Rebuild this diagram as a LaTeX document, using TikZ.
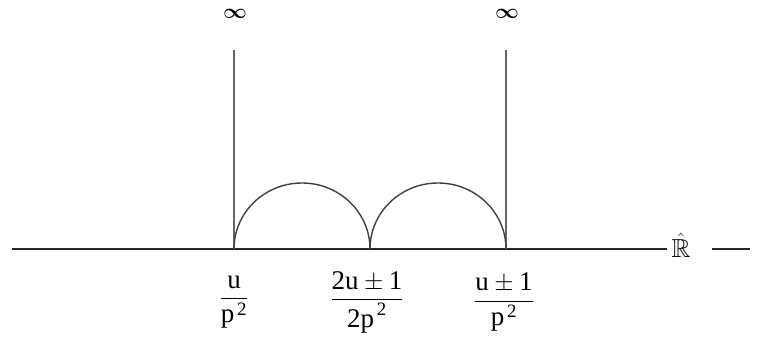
\documentclass[tikz,border=0pt]{standalone}
\usepackage{amsmath,amssymb}
\usepackage{fontspec}
\setmainfont{Liberation Serif}
\begin{document}
\begin{tikzpicture}[x=1pt,y=-1pt,
  axis/.style={line width=1.4pt,black!85},
  vert/.style={line width=1.8pt,black!60},
  geod/.style={line width=1.4pt,black!75},
  lab/.style={font=\fontsize{27}{30}\selectfont,inner sep=0pt},
  inf/.style={font=\fontsize{21}{22}\selectfont,inner sep=0pt}]
\useasboundingbox (0,0) rectangle (764,345);
\coordinate (A) at (234,249);
\coordinate (B) at (370,249);
\coordinate (C) at (506,249);
\coordinate (L) at (12,249);
\coordinate (R) at (750,249);
\coordinate (G1) at (667,249);
\coordinate (G2) at (712,249);
\node[inf] (infA) at (235,14) {$\boldsymbol{\infty}$};
\node[inf] (infC) at (507,14) {$\boldsymbol{\infty}$};
\node[font=\fontsize{26}{28}\selectfont,inner sep=0pt] (Rhat) at (681,245) {$\hat{\mathbb{R}}$};
\draw[axis] (L) -- (G1);
\draw[axis] (G2) -- (R);
\draw[vert] (234,50) -- (A);
\draw[vert] (506,50) -- (C);
\draw[geod] (A) arc[start angle=180,end angle=0,x radius=68,y radius=-66];
\draw[geod] (B) arc[start angle=180,end angle=0,x radius=68,y radius=-66];
\node[lab] (la) at (234,302) {$\dfrac{\mathrm{u}}{\mathrm{p}^{\,\mathrm{2}}}$};
\node[lab] (lb) at (367,302) {$\dfrac{\mathrm{2u}\pm\mathrm{1}}{\mathrm{2p}^{\,\mathrm{2}}}$};
\node[lab] (lc) at (504,302) {$\dfrac{\mathrm{u}\pm\mathrm{1}}{\mathrm{p}^{\,\mathrm{2}}}$};
\end{tikzpicture}
\end{document}
